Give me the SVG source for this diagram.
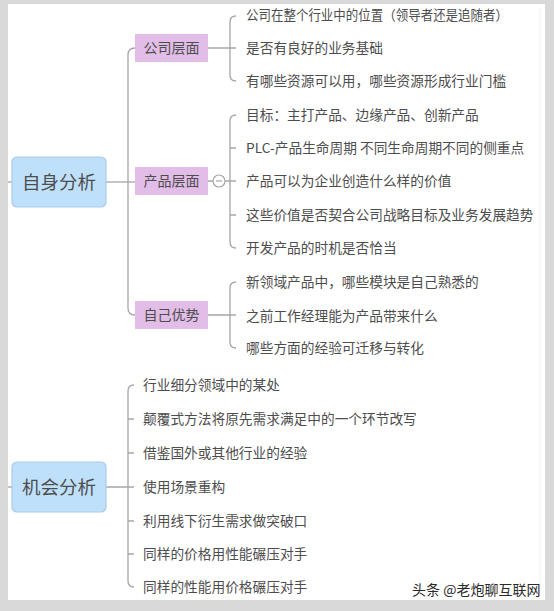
<svg xmlns="http://www.w3.org/2000/svg" width="554" height="611" viewBox="0 0 554 611">
<style>
.bg{fill:#d9d9d9}
.panel{fill:#ffffff}
.root{fill:#bfe0fb;stroke:#a9cbe8;stroke-width:1.2}
.sub{fill:#e2bde8}
.ln{fill:none;stroke:#a6a6a6;stroke-width:1.3}
text{font-family:"Noto Sans CJK SC","Noto Sans",sans-serif;fill:#4d4d4d}
.t1{font-size:18.5px;text-anchor:middle}
.t2{font-size:14px;text-anchor:middle}
.t3{font-size:13.7px}
.wm{font-size:14px;fill:#2a2a2a}
</style>
<rect class="bg" x="0" y="0" width="554" height="611"/>
<rect class="panel" x="8" y="4" width="537" height="596"/>
<line x1="540" y1="8" x2="540" y2="596" stroke="#f0f0f0" stroke-width="1"/>
<g id="connectors">
  <path class="ln" d="M8,182 L12,182"/>
  <path class="ln" d="M8,487 L12,487"/>
  <path class="ln" d="M106,182 L135,182"/>
  <path class="ln" d="M135,48 Q128,48 128,55 L128,308 Q128,315 135,315"/>
  <path class="ln" d="M208,48 L230,48 M236,16 Q230,16 230,22 L230,75 Q230,81 236,81 M230,48 L236,48"/>
  <path class="ln" d="M208,181 L213,181 M225,181 L236,181 M236,115 Q230,115 230,121 L230,242 Q230,248 236,248 M230,148 L236,148 M230,215 L236,215"/>
  <circle cx="219" cy="181" r="6" fill="#fff" stroke="#a6a6a6" stroke-width="1.2"/>
  <line x1="216" y1="181" x2="222" y2="181" stroke="#a6a6a6" stroke-width="1.2"/>
  <path class="ln" d="M208,315 L236,315 M236,282 Q230,282 230,288 L230,342 Q230,348 236,348"/>
  <path class="ln" d="M106,487 L134,487 M134,385 Q128,385 128,391 L128,581 Q128,587 134,587 M128,419 L134,419 M128,453 L134,453 M128,521 L134,521 M128,554 L134,554"/>
</g>
<g id="self">
  <rect class="root" x="12" y="157" width="94" height="50" rx="5"/>
  <text class="t1" x="59" y="189">自身分析</text>
</g>
<g id="company">
  <rect class="sub" x="135" y="34" width="73" height="28"/>
  <text class="t2" x="171.5" y="53">公司层面</text>
</g>
<g id="product">
  <rect class="sub" x="135" y="167" width="73" height="28"/>
  <text class="t2" x="171.5" y="186">产品层面</text>
</g>
<g id="advantage">
  <rect class="sub" x="135" y="301" width="73" height="28"/>
  <text class="t2" x="171.5" y="320">自己优势</text>
</g>
<g id="company-items">
  <text class="t3" x="246" y="20" textLength="262" lengthAdjust="spacingAndGlyphs">公司在整个行业中的位置（领导者还是追随者）</text>
  <text class="t3" x="246" y="53">是否有良好的业务基础</text>
  <text class="t3" x="246" y="86">有哪些资源可以用，哪些资源形成行业门槛</text>
</g>
<g id="product-items">
  <text class="t3" x="246" y="120">目标：主打产品、边缘产品、创新产品</text>
  <text class="t3" x="246" y="153">PLC-产品生命周期 不同生命周期不同的侧重点</text>
  <text class="t3" x="246" y="186">产品可以为企业创造什么样的价值</text>
  <text class="t3" x="246" y="220">这些价值是否契合公司战略目标及业务发展趋势</text>
  <text class="t3" x="246" y="253">开发产品的时机是否恰当</text>
</g>
<g id="advantage-items">
  <text class="t3" x="246" y="287">新领域产品中，哪些模块是自己熟悉的</text>
  <text class="t3" x="246" y="321">之前工作经理能为产品带来什么</text>
  <text class="t3" x="246" y="353">哪些方面的经验可迁移与转化</text>
</g>
<g id="opportunity">
  <rect class="root" x="12" y="462" width="94" height="50" rx="5"/>
  <text class="t1" x="59" y="494">机会分析</text>
</g>
<g id="opportunity-items">
  <text class="t3" x="143" y="390">行业细分领域中的某处</text>
  <text class="t3" x="143" y="424">颠覆式方法将原先需求满足中的一个环节改写</text>
  <text class="t3" x="143" y="458">借鉴国外或其他行业的经验</text>
  <text class="t3" x="143" y="492">使用场景重构</text>
  <text class="t3" x="143" y="526">利用线下衍生需求做突破口</text>
  <text class="t3" x="143" y="559">同样的价格用性能碾压对手</text>
  <text class="t3" x="143" y="592">同样的性能用价格碾压对手</text>
</g>
<text class="wm" x="412" y="595">头条 @老炮聊互联网</text>
</svg>
